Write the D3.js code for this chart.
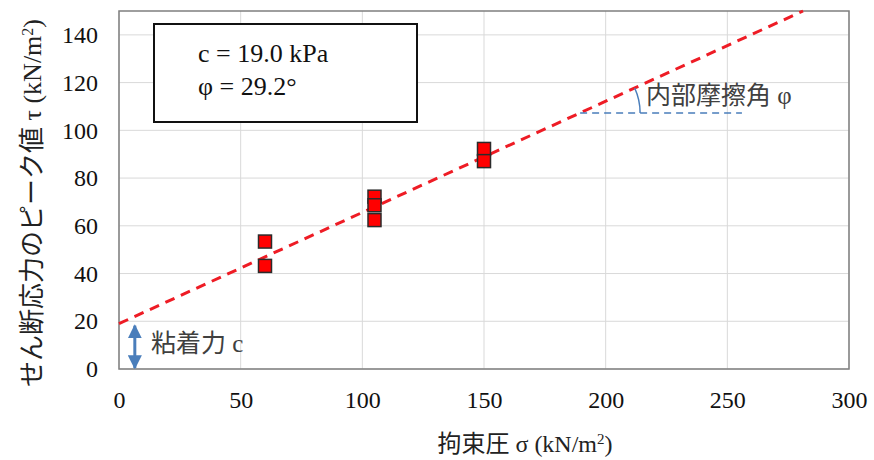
<!DOCTYPE html>
<html>
<head>
<meta charset="utf-8">
<script src="https://cdn.jsdelivr.net/npm/d3@7"></script>
<style>
  body { margin: 0; background: #fff; }
  .jp { font-family: "Noto Sans CJK JP", sans-serif; }
</style>
</head>
<body>
<div id="chart"></div>
<script>
(function() {
    'use strict';

    // data
    var sigma = [60, 60, 105, 105, 105, 150, 150];
    var tau = [53.4, 43.2, 72.2, 68.6, 62.4, 92.2, 87.1];
    var xTicks = [0, 50, 100, 150, 200, 250, 300];
    var yTicks = [0, 20, 40, 60, 80, 100, 120, 140];
    var cohesion = 19.0;        // intercept of fitted line
    var lineSlope = 0.466;      // slope as drawn
    var angleAt = [189.5, 256];  // sigma range of the horizontal angle guide
    var boxLines = ["c = 19.0 kPa", "φ = 29.2°"];

    var FONT = "Liberation Serif, serif";
    var width = 874, height = 460;
    var m = { left: 119, right: 25, top: 11, bottom: 91 };

    var svg = d3.select("#chart").append("svg")
        .attr("width", width)
        .attr("height", height)
        .style("font-family", FONT);

    var x = d3.scaleLinear().domain([0, 300]).range([m.left, width - m.right]);
    var y = d3.scaleLinear().domain([0, 150]).range([height - m.bottom, m.top]);

    // grid
    svg.append("g").selectAll("line")
        .data(xTicks).enter().append("line")
        .attr("x1", d => x(d)).attr("x2", d => x(d))
        .attr("y1", y(0)).attr("y2", y(150))
        .attr("stroke", "#d9d9d9").attr("stroke-width", 1);
    svg.append("g").selectAll("line")
        .data(yTicks).enter().append("line")
        .attr("x1", x(0)).attr("x2", x(300))
        .attr("y1", d => y(d)).attr("y2", d => y(d))
        .attr("stroke", "#d9d9d9").attr("stroke-width", 1);

    // axes
    var xAxis = svg.append("g")
        .attr("transform", "translate(0," + y(0) + ")")
        .call(d3.axisBottom(x).tickValues(xTicks).tickSize(0).tickPadding(22));
    var yAxis = svg.append("g")
        .attr("transform", "translate(" + x(0) + ",0)")
        .call(d3.axisLeft(y).tickValues(yTicks).tickSize(0).tickPadding(21));
    [xAxis, yAxis].forEach(function(a) {
        a.attr("font-family", null).attr("font-size", 24);
        a.select(".domain").remove();
        a.selectAll("text").attr("fill", "#111").style("font-family", FONT);
    });

    // plot frame
    svg.append("rect")
        .attr("x", x(0)).attr("y", y(150))
        .attr("width", x(300) - x(0)).attr("height", y(0) - y(150))
        .attr("fill", "none").attr("stroke", "#7f7f7f").attr("stroke-width", 1.5);

    // fitted line, clipped at top of plot
    var xEnd = Math.min(300, (150 - cohesion) / lineSlope);
    svg.append("line")
        .attr("x1", x(0)).attr("y1", y(cohesion))
        .attr("x2", x(xEnd)).attr("y2", y(cohesion + lineSlope * xEnd))
        .attr("stroke", "#ee1c25").attr("stroke-width", 3)
        .attr("stroke-dasharray", "10,7");

    // points
    var sz = 13;
    svg.append("g").selectAll("rect")
        .data(sigma).enter().append("rect")
        .attr("x", d => x(d) - sz / 2)
        .attr("y", (d, i) => y(tau[i]) - sz / 2)
        .attr("width", sz).attr("height", sz)
        .attr("fill", "#ff0000").attr("stroke", "#2b2b2b").attr("stroke-width", 1.5);

    // angle guide
    var blue = "#4a7ebb";
    var ay = cohesion + lineSlope * angleAt[0];
    svg.append("line")
        .attr("x1", x(angleAt[0])).attr("x2", x(angleAt[1]))
        .attr("y1", y(ay)).attr("y2", y(ay))
        .attr("stroke", blue).attr("stroke-width", 1.5)
        .attr("stroke-dasharray", "7,5");
    var cx = x(angleAt[0]), cy = y(ay), r = 60;
    var ang = Math.atan(lineSlope * (y(0) - y(1)) / (x(1) - x(0)));
    svg.append("path")
        .attr("d", "M" + (cx + r) + "," + cy + " A" + r + "," + r + " 0 0 0 " +
            (cx + r * Math.cos(ang)) + "," + (cy - r * Math.sin(ang)))
        .attr("fill", "none").attr("stroke", blue).attr("stroke-width", 1.5);
    svg.append("text")
        .attr("x", 646).attr("y", 104)
        .attr("font-size", 25).attr("fill", "#404040")
        .html("<tspan class='jp'>内部摩擦角</tspan> φ");

    // cohesion arrow
    var defs = svg.append("defs");
    defs.append("marker")
        .attr("id", "ah").attr("viewBox", "0 0 10 10")
        .attr("refX", 9).attr("refY", 5)
        .attr("markerWidth", 4.7).attr("markerHeight", 4.7)
        .attr("orient", "auto-start-reverse")
        .append("path").attr("d", "M0,0 L10,5 L0,10 Z").attr("fill", blue);
    svg.append("line")
        .attr("x1", x(6.5)).attr("x2", x(6.5))
        .attr("y1", y(cohesion) + 2).attr("y2", y(0) - 1)
        .attr("stroke", blue).attr("stroke-width", 3)
        .attr("marker-start", "url(#ah)").attr("marker-end", "url(#ah)");
    svg.append("text")
        .attr("x", 151).attr("y", 352)
        .attr("font-size", 25).attr("fill", "#404040")
        .html("<tspan class='jp'>粘着力</tspan> c");

    // parameter box
    svg.append("rect")
        .attr("x", 154).attr("y", 24).attr("width", 263).attr("height", 98)
        .attr("fill", "#fff").attr("stroke", "#111").attr("stroke-width", 2);
    svg.append("g").selectAll("text")
        .data(boxLines).enter().append("text")
        .attr("x", 198).attr("y", (d, i) => 62 + i * 33)
        .attr("font-size", 26).attr("fill", "#111")
        .text(d => d);

    // axis titles
    svg.append("text")
        .attr("x", 525).attr("y", 452)
        .attr("text-anchor", "middle").attr("font-size", 24).attr("fill", "#222")
        .html("<tspan class='jp'>拘束圧</tspan> σ (kN/m<tspan baseline-shift='super' font-size='15'>2</tspan>)");
    svg.append("text")
        .attr("transform", "translate(41,203) rotate(-90)")
        .attr("text-anchor", "middle").attr("font-size", 26).attr("fill", "#222")
        .html("<tspan class='jp'>せん断応力のピーク値</tspan> τ (kN/m<tspan baseline-shift='super' font-size='16'>2</tspan>)");
})();
</script>
</body>
</html>
